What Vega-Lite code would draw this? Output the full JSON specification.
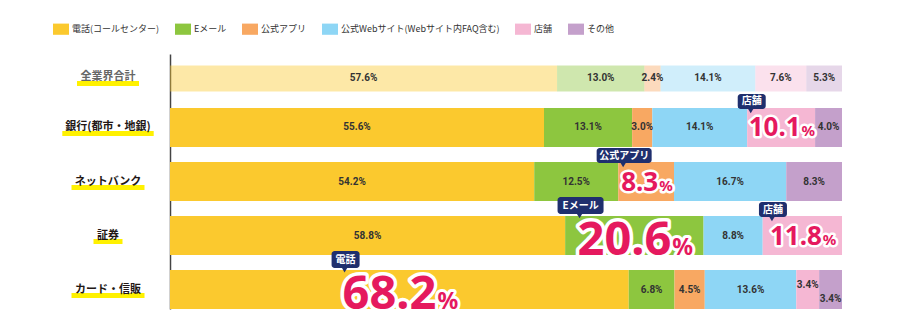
{
  "$schema": "https://vega.github.io/schema/vega-lite/v6.json",
  "autosize": {"type": "none"},
  "padding": {"left": 170, "top": 54, "right": 58, "bottom": 22},
  "width": 672,
  "height": 255,
  "config": {"view": {"stroke": null}},
  "data": {"values": [
    {"cat": "全業界合計", "type": "電話(コールセンター)", "value": 57.6, "callout": ""},
    {"cat": "全業界合計", "type": "Eメール", "value": 13.0, "callout": ""},
    {"cat": "全業界合計", "type": "公式アプリ", "value": 2.4, "callout": ""},
    {"cat": "全業界合計", "type": "公式Webサイト(Webサイト内FAQ含む)", "value": 14.1, "callout": ""},
    {"cat": "全業界合計", "type": "店舗", "value": 7.6, "callout": ""},
    {"cat": "全業界合計", "type": "その他", "value": 5.3, "callout": ""},
    {"cat": "銀行(都市・地銀)", "type": "電話(コールセンター)", "value": 55.6, "callout": ""},
    {"cat": "銀行(都市・地銀)", "type": "Eメール", "value": 13.1, "callout": ""},
    {"cat": "銀行(都市・地銀)", "type": "公式アプリ", "value": 3.0, "callout": ""},
    {"cat": "銀行(都市・地銀)", "type": "公式Webサイト(Webサイト内FAQ含む)", "value": 14.1, "callout": ""},
    {"cat": "銀行(都市・地銀)", "type": "店舗", "value": 10.1, "callout": "店舗"},
    {"cat": "銀行(都市・地銀)", "type": "その他", "value": 4.0, "callout": ""},
    {"cat": "ネットバンク", "type": "電話(コールセンター)", "value": 54.2, "callout": ""},
    {"cat": "ネットバンク", "type": "Eメール", "value": 12.5, "callout": ""},
    {"cat": "ネットバンク", "type": "公式アプリ", "value": 8.3, "callout": "公式アプリ"},
    {"cat": "ネットバンク", "type": "公式Webサイト(Webサイト内FAQ含む)", "value": 16.7, "callout": ""},
    {"cat": "ネットバンク", "type": "その他", "value": 8.3, "callout": ""},
    {"cat": "証券", "type": "電話(コールセンター)", "value": 58.8, "callout": ""},
    {"cat": "証券", "type": "Eメール", "value": 20.6, "callout": "Eメール"},
    {"cat": "証券", "type": "公式Webサイト(Webサイト内FAQ含む)", "value": 8.8, "callout": ""},
    {"cat": "証券", "type": "店舗", "value": 11.8, "callout": "店舗"},
    {"cat": "カード・信販", "type": "電話(コールセンター)", "value": 68.2, "callout": "電話"},
    {"cat": "カード・信販", "type": "Eメール", "value": 6.8, "callout": ""},
    {"cat": "カード・信販", "type": "公式アプリ", "value": 4.5, "callout": ""},
    {"cat": "カード・信販", "type": "公式Webサイト(Webサイト内FAQ含む)", "value": 13.6, "callout": ""},
    {"cat": "カード・信販", "type": "店舗", "value": 3.4, "callout": ""},
    {"cat": "カード・信販", "type": "その他", "value": 3.4, "callout": ""}
  ]},
  "transform": [
    {"calculate": "indexof(['電話(コールセンター)','Eメール','公式アプリ','公式Webサイト(Webサイト内FAQ含む)','店舗','その他'], datum.type)", "as": "ord"},
    {"stack": "value", "groupby": ["cat"], "sort": [{"field": "ord", "order": "ascending"}], "offset": "normalize", "as": ["x0", "x1"]},
    {"calculate": "(datum.x0 + datum.x1) / 2", "as": "mid"},
    {"calculate": "format(datum.value, '.1f') + '%'", "as": "lbl"},
    {"calculate": "format(datum.value, '.1f')", "as": "numstr"},
    {"calculate": "datum.value > 15", "as": "big"},
    {"calculate": "(datum.big ? 47 : 26) * (0.572 * (length(datum.numstr) - 1) + 0.28)", "as": "numW"},
    {"calculate": "(datum.big ? 23 : 15) * 0.86", "as": "pctW"},
    {"calculate": "-(datum.numW + datum.pctW) / 2", "as": "nx"},
    {"calculate": "length(datum.callout) * 9 + 10", "as": "bw"},
    {"calculate": "11 * length(datum.cat) - (indexof(datum.cat, '(') >= 0 ? 14.6 : 0) + 7", "as": "hw"}
  ],
  "layer": [
    {
      "mark": {"type": "bar", "yOffset": {"expr": "datum.cat === '全業界合計' ? 5 : 0"}},
      "encoding": {
        "y": {"field": "cat", "type": "nominal", "sort": ["全業界合計", "銀行(都市・地銀)", "ネットバンク", "証券", "カード・信販"],
              "scale": {"paddingInner": 0.278, "paddingOuter": 0},
              "axis": {"labels": false, "ticks": false, "tickSize": 0, "title": null, "domainColor": "#444", "domainWidth": 1.5}},
        "x": {"field": "x0", "type": "quantitative", "scale": {"domain": [0, 1], "nice": false, "zero": false}, "axis": null},
        "x2": {"field": "x1"},
        "color": {"field": "type", "type": "nominal",
                  "scale": {"domain": ["電話(コールセンター)", "Eメール", "公式アプリ", "公式Webサイト(Webサイト内FAQ含む)", "店舗", "その他"],
                            "range": ["#FBC92E", "#8DC63F", "#F8A862", "#8ED6F5", "#F5B7D3", "#C4A0CB"]},
                  "legend": {"title": null, "orient": "none", "legendX": -117, "legendY": -33, "direction": "horizontal", "columns": 6,
                             "columnPadding": 15, "symbolType": "M-1,-0.7L1,-0.7L1,0.7L-1,0.7Z", "symbolSize": 256, "symbolStrokeWidth": 0,
                             "symbolOpacity": 1, "labelFontSize": 9, "labelFont": "Noto Sans CJK JP", "labelColor": "#333", "labelOffset": 3,
                             "labelLimit": 0, "padding": 0}},
        "opacity": {"condition": {"test": "datum.cat === '全業界合計'", "value": 0.42}, "value": 1},
        "size": {"condition": {"test": "datum.cat === '全業界合計'", "value": 26}, "value": 39}
      }
    },
    {
      "transform": [{"filter": "datum.callout === ''"}],
      "mark": {"type": "text", "font": "Roboto", "fontWeight": "bold", "fontSize": 10, "fill": "#333", "baseline": "middle", "align": "center",
               "dy": {"expr": "datum.cat === '全業界合計' ? 5 : (datum.cat === 'カード・信販' && datum.type === '店舗' ? -4.5 : (datum.cat === 'カード・信販' && datum.type === 'その他' ? 9 : 0))"}},
      "encoding": {
        "y": {"field": "cat", "type": "nominal", "sort": ["全業界合計", "銀行(都市・地銀)", "ネットバンク", "証券", "カード・信販"]},
        "x": {"field": "mid", "type": "quantitative"},
        "text": {"field": "lbl"}
      }
    },
    {
      "transform": [{"filter": "datum.ord === 0"}],
      "mark": {"type": "bar", "color": "#FFF100",
               "xOffset": {"expr": "-62 - datum.hw / 2"}, "x2Offset": {"expr": "-62 + datum.hw / 2"},
               "yOffset": {"expr": "datum.cat === '全業界合計' ? 10 : 6"}},
      "encoding": {
        "y": {"field": "cat", "type": "nominal", "sort": ["全業界合計", "銀行(都市・地銀)", "ネットバンク", "証券", "カード・信販"]},
        "x": {"datum": 0, "type": "quantitative"},
        "x2": {"datum": 0},
        "size": {"value": 5}
      }
    },
    {
      "transform": [{"filter": "datum.ord === 0"}],
      "mark": {"type": "text", "font": "Noto Sans CJK JP", "fontWeight": "bold", "fontSize": 11, "align": "center", "baseline": "middle", "dx": -62,
               "dy": {"expr": "datum.cat === '全業界合計' ? 4 : 0"}},
      "encoding": {
        "y": {"field": "cat", "type": "nominal", "sort": ["全業界合計", "銀行(都市・地銀)", "ネットバンク", "証券", "カード・信販"]},
        "x": {"datum": 0, "type": "quantitative"},
        "text": {"field": "cat"},
        "color": {"condition": {"test": "datum.cat === '全業界合計'", "value": "#666666"}, "value": "#231815"}
      }
    },
    {
      "transform": [{"filter": "datum.callout !== ''"}],
      "mark": {"type": "text", "font": "Noto Sans", "fontWeight": "bold", "align": "left", "baseline": "alphabetic", "fill": "white", "stroke": "white", "strokeJoin": "round",
               "dx": {"expr": "datum.nx"}, "dy": {"expr": "datum.big ? 19 : 9"}},
      "encoding": {
        "y": {"field": "cat", "type": "nominal", "sort": ["全業界合計", "銀行(都市・地銀)", "ネットバンク", "証券", "カード・信販"]},
        "x": {"field": "mid", "type": "quantitative"},
        "text": {"field": "numstr"},
        "size": {"condition": {"test": "datum.value > 15", "value": 47}, "value": 26},
        "strokeWidth": {"condition": {"test": "datum.value > 15", "value": 7}, "value": 5}
      }
    },
    {
      "transform": [{"filter": "datum.callout !== ''"}],
      "mark": {"type": "text", "font": "Noto Sans", "fontWeight": "bold", "align": "left", "baseline": "alphabetic", "fill": "white", "stroke": "white", "strokeJoin": "round",
               "dx": {"expr": "datum.nx + datum.numW + 1"}, "dy": {"expr": "datum.big ? 19 : 9"}},
      "encoding": {
        "y": {"field": "cat", "type": "nominal", "sort": ["全業界合計", "銀行(都市・地銀)", "ネットバンク", "証券", "カード・信販"]},
        "x": {"field": "mid", "type": "quantitative"},
        "text": {"value": "%"},
        "size": {"condition": {"test": "datum.value > 15", "value": 23}, "value": 15},
        "strokeWidth": {"condition": {"test": "datum.value > 15", "value": 6}, "value": 5}
      }
    },
    {
      "transform": [{"filter": "datum.callout !== ''"}],
      "mark": {"type": "text", "font": "Noto Sans", "fontWeight": "bold", "align": "left", "baseline": "alphabetic", "fill": "#E5195E",
               "dx": {"expr": "datum.nx"}, "dy": {"expr": "datum.big ? 19 : 9"}},
      "encoding": {
        "y": {"field": "cat", "type": "nominal", "sort": ["全業界合計", "銀行(都市・地銀)", "ネットバンク", "証券", "カード・信販"]},
        "x": {"field": "mid", "type": "quantitative"},
        "text": {"field": "numstr"},
        "size": {"condition": {"test": "datum.value > 15", "value": 47}, "value": 26}
      }
    },
    {
      "transform": [{"filter": "datum.callout !== ''"}],
      "mark": {"type": "text", "font": "Noto Sans", "fontWeight": "bold", "align": "left", "baseline": "alphabetic", "fill": "#E5195E",
               "dx": {"expr": "datum.nx + datum.numW + 1"}, "dy": {"expr": "datum.big ? 19 : 9"}},
      "encoding": {
        "y": {"field": "cat", "type": "nominal", "sort": ["全業界合計", "銀行(都市・地銀)", "ネットバンク", "証券", "カード・信販"]},
        "x": {"field": "mid", "type": "quantitative"},
        "text": {"value": "%"},
        "size": {"condition": {"test": "datum.value > 15", "value": 23}, "value": 15}
      }
    },
    {
      "transform": [{"filter": "datum.callout !== ''"}],
      "mark": {"type": "bar", "color": "#1F2F6E", "cornerRadius": 3,
               "xOffset": {"expr": "datum.nx + 3 - datum.bw / 2"}, "x2Offset": {"expr": "datum.nx + 3 + datum.bw / 2"},
               "yOffset": {"expr": "datum.big ? -30 : -26"}},
      "encoding": {
        "y": {"field": "cat", "type": "nominal", "sort": ["全業界合計", "銀行(都市・地銀)", "ネットバンク", "証券", "カード・信販"]},
        "x": {"field": "mid", "type": "quantitative"},
        "x2": {"field": "mid"},
        "size": {"condition": {"test": "datum.value > 15", "value": 17}, "value": 15}
      }
    },
    {
      "transform": [{"filter": "datum.callout !== ''"}],
      "mark": {"type": "point", "shape": "triangle-down", "filled": true, "color": "#1F2F6E", "size": 30, "opacity": 1,
               "xOffset": {"expr": "datum.nx + 2"},
               "yOffset": {"expr": "datum.big ? -19.5 : -16.5"}},
      "encoding": {
        "y": {"field": "cat", "type": "nominal", "sort": ["全業界合計", "銀行(都市・地銀)", "ネットバンク", "証券", "カード・信販"]},
        "x": {"field": "mid", "type": "quantitative"}
      }
    },
    {
      "transform": [{"filter": "datum.callout !== ''"}],
      "mark": {"type": "text", "font": "Noto Sans CJK JP", "fontWeight": "bold", "fontSize": 10, "fill": "white", "align": "center", "baseline": "middle",
               "dx": {"expr": "datum.nx + 3"}, "dy": {"expr": "datum.big ? -30 : -26"}},
      "encoding": {
        "y": {"field": "cat", "type": "nominal", "sort": ["全業界合計", "銀行(都市・地銀)", "ネットバンク", "証券", "カード・信販"]},
        "x": {"field": "mid", "type": "quantitative"},
        "text": {"field": "callout"}
      }
    }
  ]
}
